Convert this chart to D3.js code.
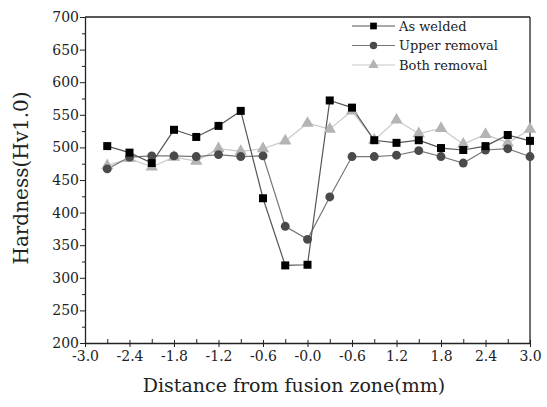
<!DOCTYPE html>
<html><head><meta charset="utf-8">
<script src="https://cdn.jsdelivr.net/npm/d3@7"></script>
<style>body{margin:0;background:#fff}svg{display:block}text{font-family:"DejaVu Serif",serif;fill:#222}</style>
</head><body>
<svg id="c" width="547" height="407"></svg>
<script>
const distances = [-2.7,-2.4,-2.1,-1.8,-1.5,-1.2,-0.9,-0.6,-0.3,0.0,0.3,0.6,0.9,1.2,1.5,1.8,2.1,2.4,2.7,3.0];
const asWelded = [502,492,476,527,516,533,556,422,319,320,572,561,511,507,511,499,496,502,519,510];
const upperRemoval = [467,485,487,487,486,489,486,487,379,359,424,486,486,488,495,486,476,496,498,486];
const bothRemoval = [472,483,470,485,479,498,494,498,510,537,528,556,511,542,521,529,505,520,507,528];
const seriesNames = ["As welded","Upper removal","Both removal"];
const xTickValues = [-3.0,-2.4,-1.8,-1.2,-0.6,0.0,0.6,1.2,1.8,2.4,3.0];
const xTickLabels = ["-3.0","-2.4","-1.8","-1.2","-0.6","-0.0","-0.6","1.2","1.8","2.4","3.0"];
const yTickValues = [200,250,300,350,400,450,500,550,600,650,700];

const svg = d3.select("#c");
const L=85,R=530,T=17,B=343;
const x = d3.scaleLinear().domain([-3,3]).range([L,R]);
const y = d3.scaleLinear().domain([200,700]).range([B,T]);

// frame top & right
svg.append("line").attr("x1",L).attr("x2",R).attr("y1",T).attr("y2",T).attr("stroke","#222").attr("stroke-width",1.3);
svg.append("line").attr("x1",R).attr("x2",R).attr("y1",T).attr("y2",B).attr("stroke","#222").attr("stroke-width",1.3);

// minor ticks
const xMinor = d3.range(-2.7,3.0,0.6).map(v=>+v.toFixed(1));
svg.append("g").attr("transform",`translate(0,${B})`)
  .call(d3.axisBottom(x).tickValues(xMinor).tickSize(-4).tickFormat(""))
  .call(g=>g.select(".domain").remove()).selectAll("line").attr("stroke","#222");
const yMinor = d3.range(225,700,50);
svg.append("g").attr("transform",`translate(${L},0)`)
  .call(d3.axisLeft(y).tickValues(yMinor).tickSize(3).tickFormat(""))
  .call(g=>g.select(".domain").remove()).selectAll("line").attr("stroke","#222");

const gx = svg.append("g").attr("transform",`translate(0,${B})`)
  .call(d3.axisBottom(x).tickValues(xTickValues).tickSize(4).tickSizeOuter(0)
    .tickFormat((d,i)=>xTickLabels[i]));
gx.select(".domain").attr("stroke","#222").attr("stroke-width",1.3);
gx.selectAll(".tick line").attr("stroke","#222").attr("y1",-3);
gx.selectAll("text").attr("font-size",14).attr("font-family","DejaVu Serif").attr("fill","#222").attr("dy","0.8em");

const gy = svg.append("g").attr("transform",`translate(${L},0)`)
  .call(d3.axisLeft(y).tickValues(yTickValues).tickSize(5).tickSizeOuter(0));
gy.select(".domain").attr("stroke","#222").attr("stroke-width",1.3);
gy.selectAll(".tick line").attr("stroke","#222");
gy.selectAll("text").attr("font-size",14).attr("font-family","DejaVu Serif").attr("fill","#222").attr("x",-6);

// titles
svg.append("text").attr("x",294).attr("y",392).attr("text-anchor","middle").attr("font-size",19).text("Distance from fusion zone(mm)");
svg.append("text").attr("transform",`translate(28,178) rotate(-90)`).attr("text-anchor","middle").attr("font-size",20).text("Hardness(Hv1.0)");

const series = [
  {name:seriesNames[0], vals:asWelded, line:"#555", fill:"#000", shape:d3.symbolSquare, size:64},
  {name:seriesNames[1], vals:upperRemoval, line:"#777", fill:"#4a4a4a", shape:d3.symbolCircle, size:62},
  {name:seriesNames[2], vals:bothRemoval, line:"#c8c8c8", fill:"#b4b4b4", shape:d3.symbolTriangle, size:66},
];
const line = d3.line().x(d=>x(d[0])).y(d=>y(d[1]));
[...series].reverse().forEach(s=>{
  const pts = distances.map((d,i)=>[d,s.vals[i]]);
  svg.append("path").attr("d",line(pts)).attr("fill","none").attr("stroke",s.line).attr("stroke-width",1.2);
});
[...series].reverse().forEach(s=>{
  const pts = distances.map((d,i)=>[d,s.vals[i]]);
  svg.append("g").selectAll("path").data(pts).join("path")
    .attr("transform",d=>`translate(${x(d[0])},${y(d[1])})`)
    .attr("d",d3.symbol(s.shape,s.size)).attr("fill",s.fill);
});

// legend
series.forEach((s,i)=>{
  const yy = 26 + i*19.5;
  svg.append("line").attr("x1",352).attr("x2",395).attr("y1",yy).attr("y2",yy).attr("stroke",s.line).attr("stroke-width",1.2);
  svg.append("path").attr("transform",`translate(373.5,${yy})`).attr("d",d3.symbol(s.shape,s.size*0.7)).attr("fill",s.fill);
  svg.append("text").attr("x",399).attr("y",yy).attr("dy","0.35em").attr("font-size",13).text(s.name);
});
</script>
</body></html>
